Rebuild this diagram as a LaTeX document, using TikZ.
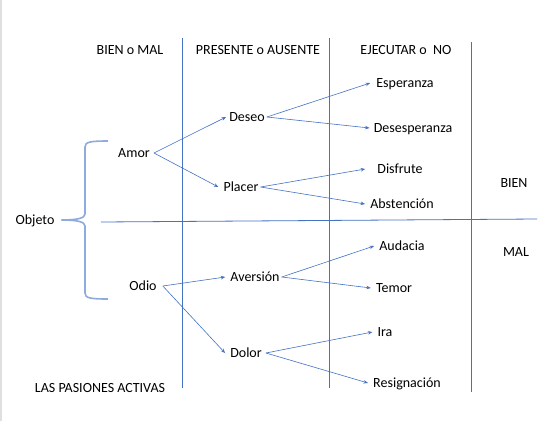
\documentclass[tikz,border=0pt]{standalone}
\usepackage{fontspec}
\setmainfont{Carlito}
\usetikzlibrary{arrows.meta}
\definecolor{lineblue}{HTML}{4472C4}
\definecolor{braceblue}{HTML}{8FAADC}
\begin{document}
\begin{tikzpicture}[x=1pt,y=-1pt,
  lbl/.style={inner sep=2pt, font=\fontsize{14}{16}\selectfont, text height=9pt, text depth=0pt},
  arr/.style={draw=lineblue, line width=0.6pt, -{Stealth[length=4.5pt,width=3.5pt]}},
  grid/.style={draw=lineblue, line width=0.8pt}]
\useasboundingbox (0,0) rectangle (551,421);
\fill[white] (0,0) rectangle (551,421);
\draw[gray!25, line width=1.5pt] (0.75,0) -- (0.75,421);

% grid lines
\coordinate (v1t) at (182,38); \coordinate (v1b) at (182,388);
\coordinate (v2t) at (329,38); \coordinate (v2b) at (329,388);
\coordinate (v3t) at (471,42); \coordinate (v3b) at (471,392);
\coordinate (hl) at (101,222); \coordinate (hr) at (537,219);
\draw[grid] (v1t) -- (v1b);
\draw[grid] (v2t) -- (v2b);
\draw[grid] (v3t) -- (v3b);
\draw[grid] (hl) -- (hr);

% headers
\node[lbl] (h1) at (130,50) {BIEN o MAL};
\node[lbl] (h2) at (258,50) {PRESENTE o AUSENTE};
\node[lbl] (h3) at (406,50) {EJECUTAR o\ \ NO};
\node[lbl] (bien) at (514,183) {BIEN};
\node[lbl] (mal) at (516,252) {MAL};
\node[lbl] (foot) at (100,388) {LAS PASIONES ACTIVAS};

% nodes
\node[lbl] (objeto) at (35,220) {Objeto};
\node[lbl] (amor) at (134,153) {Amor};
\node[lbl] (odio) at (143,286) {Odio};
\node[lbl] (deseo) at (247,117) {Deseo};
\node[lbl] (placer) at (241,187) {Placer};
\node[lbl] (aversion) at (255,277) {Aversión};
\node[lbl] (dolor) at (246,353) {Dolor};
\node[lbl] (esperanza) at (405,83) {Esperanza};
\node[lbl] (desesp) at (413,128) {Desesperanza};
\node[lbl] (disfrute) at (400,169) {Disfrute};
\node[lbl] (abst) at (402,204) {Abstención};
\node[lbl] (audacia) at (402,246) {Audacia};
\node[lbl] (temor) at (394,288) {Temor};
\node[lbl] (ira) at (385,332) {Ira};
\node[lbl] (resig) at (407,383) {Resignación};

% brace
\coordinate (bt) at (108,141);
\coordinate (bb) at (108,299);
\coordinate (btip) at ([xshift=5pt]objeto.east);
\draw[braceblue, line width=1.6pt, line join=round]
  (bt) .. controls (90,141) and (85,142) .. (85,147)
  -- (85,214) .. controls (85,218) and (78,220) .. (btip)
  .. controls (78,220) and (85,222) .. (85,226)
  -- (85,293) .. controls (85,298) and (90,299) .. (bb);

% arrows
\draw[arr] ([xshift=2pt]amor.east) -- ([xshift=-1pt]deseo.west);
\draw[arr] ([xshift=2pt]amor.east) -- ([xshift=-3pt]placer.west);
\draw[arr] (deseo.east) -- ([xshift=-4pt]esperanza.west);
\draw[arr] (deseo.east) -- ([xshift=-2pt]desesp.west);
\draw[arr] (placer.east) -- ([xshift=-10pt]disfrute.west);
\draw[arr] (placer.east) -- ([xshift=-3pt]abst.west);
\draw[arr] ([xshift=4pt]odio.east) -- ([xshift=-3pt]aversion.west);
\draw[arr] ([xshift=4pt]odio.east) -- ([xshift=-3pt]dolor.west);
\draw[arr] (aversion.east) -- ([xshift=-3pt]audacia.west);
\draw[arr] (aversion.east) -- ([xshift=-3pt]temor.west);
\draw[arr] ([xshift=2pt]dolor.east) -- ([xshift=-3pt]ira.west);
\draw[arr] ([xshift=2pt]dolor.east) -- ([xshift=-3pt]resig.west);
\end{tikzpicture}
\end{document}
